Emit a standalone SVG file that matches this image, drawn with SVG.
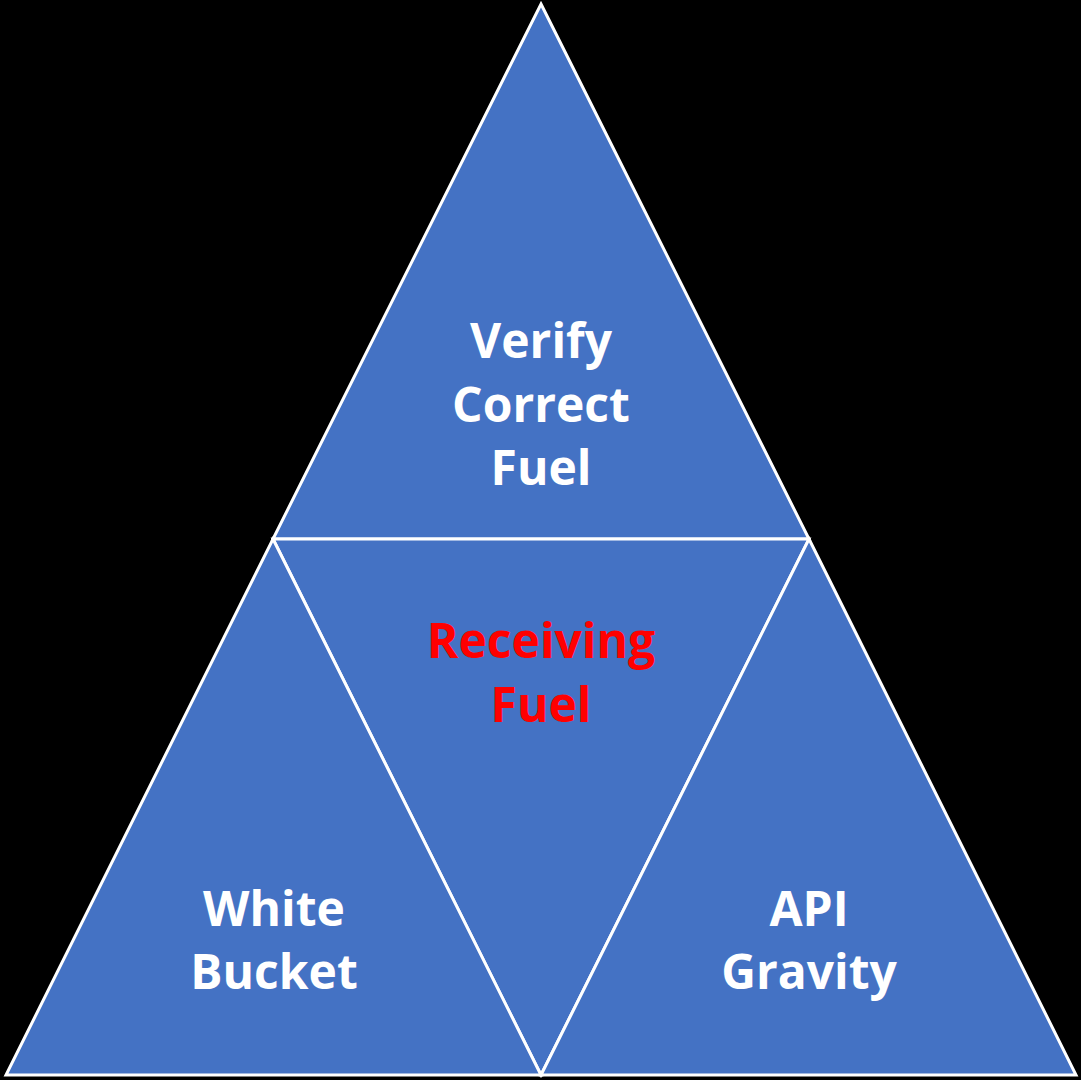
<svg xmlns="http://www.w3.org/2000/svg" width="1081" height="1080" viewBox="0 0 1081 1080">
<style>
.tri{fill:#4472C4;stroke:#FFFFFF;stroke-width:3;stroke-linejoin:miter}
.lbl{font-family:"Open Sans","Liberation Sans",sans-serif;font-weight:bold;font-size:48px;text-anchor:middle;fill:#FFFFFF}
.red{fill:#FF0000}
</style>
<rect width="1081" height="1080" fill="#000000"/>
<g id="top"><polygon class="tri" points="541,4 809,539 273,539"/><text class="lbl" x="541" y="358">Verify</text><text class="lbl" x="541" y="422">Correct</text><text class="lbl" x="541" y="485">Fuel</text></g>
<g id="center"><polygon class="tri" points="273,539 809,539 541,1075"/><text class="lbl red" x="541" y="658">Receiving</text><text class="lbl red" x="541" y="722">Fuel</text></g>
<g id="left"><polygon class="tri" points="273,539 541,1075 6,1075"/><text class="lbl" x="274" y="926">White</text><text class="lbl" x="274" y="989">Bucket</text></g>
<g id="right"><polygon class="tri" points="809,539 1076,1075 541,1075"/><text class="lbl" x="809" y="926">API</text><text class="lbl" x="809" y="989">Gravity</text></g>
<g id="connectors"/>
</svg>
